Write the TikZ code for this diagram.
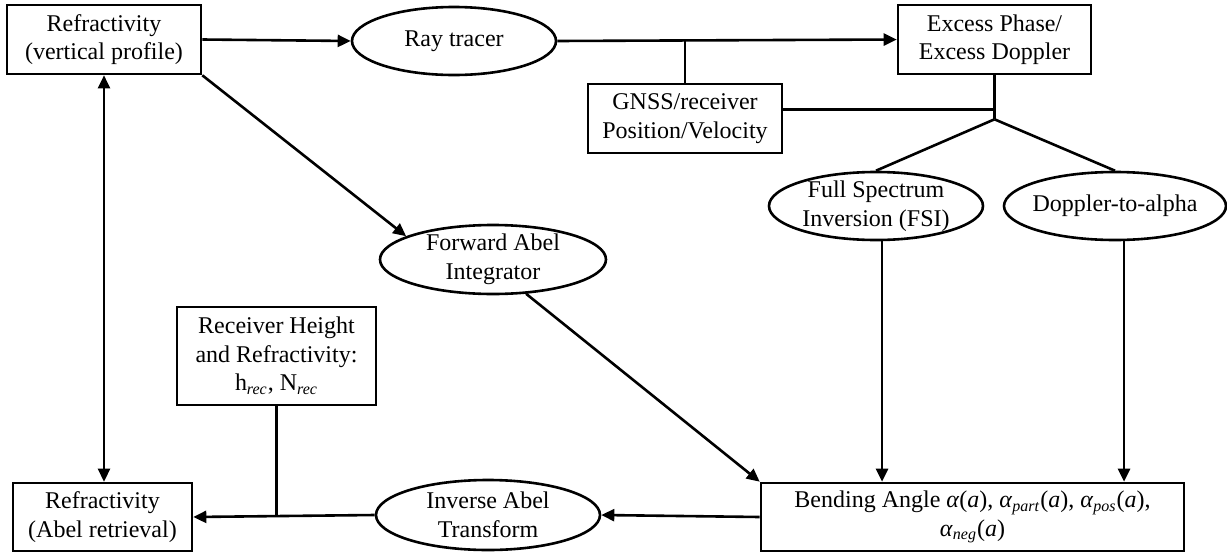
\documentclass[tikz,border=0pt]{standalone}
\usepackage{fontspec}
\setmainfont{Liberation Serif}
\usepackage{tikz}
\usetikzlibrary{arrows.meta,shapes,positioning,calc}
\newcommand{\diagfont}{\fontsize{12}{14.25}\selectfont}
\newcommand{\sub}[1]{\textsubscript{\textit{#1}}}

\begin{document}
\begin{tikzpicture}[
    x=0.5pt, y=-0.5pt,
    line width=1.3pt,
    box/.style={rectangle, draw, line width=1.3pt, minimum width=97pt, minimum height=34.5pt, align=center, font=\diagfont, inner sep=2pt},
    ell/.style={ellipse, draw, line width=1.3pt, inner xsep=-30pt, inner ysep=-12pt, minimum height=34pt, align=center, font=\diagfont},
    arr/.style={-{Triangle[length=6.5pt,width=6pt]}}
]
    \useasboundingbox (0,0) rectangle (1227,552);

    \node[box] (rv) at (104,39.5) {Refractivity\\(vertical profile)};
    \node[ell, minimum width=102pt] (ray) at (454,41) {Ray tracer};
    \node[box, minimum width=96.5pt] (exc) at (994.5,39.5) {Excess Phase/\\Excess Doppler};
    \node[box] (gnss) at (685,118.5) {GNSS/receiver\\Position/Velocity};
    \node[ell, minimum width=107pt] (fsi) at (876,206) {Full Spectrum\\Inversion (FSI)};
    \node[ell, minimum width=111pt] (dop) at (1115,206) {Doppler-to-alpha};
    \node[ell, minimum width=113pt, minimum height=34.5pt] (fwd) at (493,259.5) {Forward Abel\\Integrator};
    \node[box, minimum width=99.5pt, minimum height=49pt] (rcv) at (276.5,356) {Receiver Height\\and Refractivity:\\h\sub{rec}, N\sub{rec}};
    \node[box, minimum width=89.5pt, minimum height=34pt] (ra) at (102.5,517) {Refractivity\\(Abel retrieval)};
    \node[ell, minimum width=112pt, minimum height=35pt] (inv) at (488,515) {Inverse Abel\\Transform};
    \node[box, minimum width=211.5pt, minimum height=34pt] (bend) at (972.5,517)
        {Bending Angle \textit{α}(\textit{a}), \textit{α}\sub{part}(\textit{a}), \textit{α}\sub{pos}(\textit{a}),\\\textit{α}\sub{neg}(\textit{a})};

    % junctions
    \coordinate (j1) at (gnss.north |- ray.east);
    \coordinate (j2) at ($(exc.south)+(0,44)$);
    \coordinate (j3) at ($(exc.south)+(0,34)$);
    \coordinate (j4) at (rcv.south |- ra.east);

    \draw[arr] (rv.east) -- (ray.west);
    \draw[arr] (ray.east) -- (exc.west);
    \draw (j1) -- (gnss.north);
    \draw (exc.south) -- (j2);
    \draw (gnss.east |- j3) -- (j3);
    \draw (j2) -- (fsi.north);
    \draw (j2) -- (dop.north);
    \draw[arr] ([xshift=3pt]fsi.south) -- ([xshift=3pt]fsi.south |- bend.north);
    \draw[arr] ([xshift=4.5pt]dop.south) -- ([xshift=4.5pt]dop.south |- bend.north);
    \draw[arr] (rv.south east) -- (fwd.165);
    \draw[arr] (fwd.-46) -- (bend.north west);
    \draw[arr] (bend.west) -- (inv.east);
    \draw[arr] (inv.west) -- (ra.east);
    \draw (rcv.south) -- (j4);
    \draw[{Triangle[length=6.5pt,width=6pt]}-{Triangle[length=6.5pt,width=6pt]}] (rv.south) -- (rv.south |- ra.north);
\end{tikzpicture}
\end{document}
